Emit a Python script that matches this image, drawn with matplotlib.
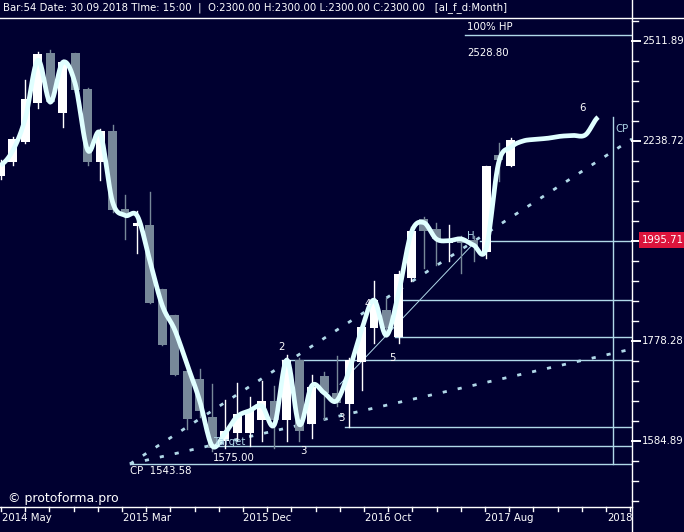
import numpy as np
import matplotlib.pyplot as plt

# monthly candles: open, high, low, close
opens = [2151, 2185, 2236, 2339, 2477, 2312, 2477, 2377, 2185, 2264, 2071, 2030, 2033, 1888,
         1832, 1718, 1702, 1630, 1585, 1599, 1599, 1623, 1660, 1623, 1740, 1617, 1708, 1675,
         1653, 1736, 1805, 1842, 1786, 1912, 2047, 2024, 1991, 1998, 1998, 1970, 2203, 2175]
highs = [2190, 2249, 2402, 2480, 2486, 2457, 2477, 2380, 2270, 2280, 2104, 2066, 2111, 1888,
         1832, 1734, 1722, 1692, 1661, 1694, 1667, 1698, 1689, 1750, 1744, 1710, 1716, 1748,
         1744, 1811, 1905, 1868, 1928, 2028, 2052, 2038, 2033, 2007, 2007, 2175, 2233, 2246]
lows = [2144, 2177, 2233, 2325, 2341, 2275, 2368, 2177, 2141, 2063, 2000, 1968, 1858, 1771,
        1710, 1607, 1630, 1566, 1572, 1585, 1576, 1585, 1572, 1585, 1585, 1590, 1626, 1650,
        1611, 1681, 1774, 1797, 1774, 1906, 1935, 1940, 1950, 1923, 1950, 1957, 2139, 2175]
closes = [2182, 2243, 2350, 2474, 2341, 2451, 2374, 2185, 2264, 2068, 2057, 2035, 1858, 1771,
          1710, 1626, 1641, 1572, 1603, 1635, 1641, 1660, 1623, 1740, 1603, 1687, 1675, 1655,
          1740, 1807, 1864, 1805, 1921, 2019, 2019, 2000, 2000, 1991, 1984, 2175, 2190, 2241]

# smoothed line, one value per bar
smooth = [2177, 2215, 2299, 2457, 2341, 2451, 2391, 2215, 2259, 2087, 2055, 2053, 1950, 1852,
          1801, 1730, 1660, 1576, 1598, 1630, 1641, 1650, 1615, 1740, 1615, 1689, 1675, 1660,
          1719, 1801, 1864, 1790, 1883, 2015, 2038, 2000, 1996, 2000, 1986, 1977, 2182, 2223,
          2239, 2243, 2246, 2251, 2253, 2255, 2301]

levels = [1543.58, 1575.00, 1611, 1740, 1787, 1864, 1995.71, 2528.80]
level_start = [10.4, 17.2, 27.7, 22.6, 31.7, 32.1, 38.5, 37.3]
axis_labels = ['2511.89', '2238.72', '1995.71', '1778.28', '1584.89']
x_labels = ['2014 May', '2015 Mar', '2015 Dec', '2016 Oct', '2017 Aug', '2018']
x_label_px = [27, 147, 267, 388, 509, 620]

BG = '#000030'
LINE = '#b0d8e8'
W, H = 684, 532
FS = 7.3


def ix(px):
    return (px - 0.5) / 12.45


fig = plt.figure(figsize=(W / 100, H / 100), dpi=100, facecolor=BG)
ax = fig.add_axes([0, 25 / H, 632 / W, 489 / H], facecolor=BG)
ax.set_yscale('log')
ax.set_xlim(ix(0), ix(632))
ax.set_ylim(10 ** (3.4 - 466 * 0.0005), 10 ** (3.4 + 23 * 0.0005))
for s in ax.spines.values():
    s.set_visible(False)
ax.set_xticks([])
ax.set_yticks([])
ax.set_yticks([], minor=True)

# horizontal levels
for lv, st in zip(levels, level_start):
    ax.plot([st, ix(632)], [lv, lv], color=LINE, lw=1, zorder=1)

# dotted channel lines from CP
cp_x = ix(130)
ax.plot([cp_x, ix(632)], [1543.58, 2244], color=LINE, lw=2, ls=(0, (1.5, 4)), zorder=1)
ax.plot([cp_x, ix(632)], [1543.58, 1762], color=LINE, lw=2, ls=(0, (1.5, 4)), zorder=1)
ax.plot([ix(340), ix(475)], [1692, 1993], color=LINE, lw=0.7, zorder=1)
ax.plot([ix(613), ix(613)], [1543.58, 2302], color=LINE, lw=1, zorder=1)

# candles
for i, (o, h, l, c) in enumerate(zip(opens, highs, lows, closes)):
    col = 'white' if c >= o else '#778899'
    ax.plot([i, i], [l, h], color=col, lw=1, zorder=2)
    lo, hi = min(o, c), max(o, c)
    if hi / lo < 1.003:
        hi = lo * 1.003
    ax.bar(i, hi - lo, bottom=lo, width=0.72, color=col, zorder=3)

# smooth line (Catmull-Rom through the per-bar values, in log space)
ys = np.log10(smooth)
pts_x, pts_y = [], []
n = len(ys)
for k in range(n - 1):
    p0 = ys[max(k - 1, 0)]
    p1, p2 = ys[k], ys[k + 1]
    p3 = ys[min(k + 2, n - 1)]
    t = np.linspace(0, 1, 12, endpoint=False)
    seg = 0.5 * (2 * p1 + (-p0 + p2) * t + (2 * p0 - 5 * p1 + 4 * p2 - p3) * t ** 2
                 + (-p0 + 3 * p1 - 3 * p2 + p3) * t ** 3)
    pts_x.extend(k + t)
    pts_y.extend(seg)
pts_x.append(n - 1)
pts_y.append(ys[-1])
ax.plot(pts_x, 10 ** np.array(pts_y), color='#e0ffff', lw=3.4, solid_capstyle='butt', zorder=4)

# annotations
tk = dict(color='white', fontsize=FS, zorder=5)
ax.text(ix(278), 1760, '2', **tk)
ax.text(ix(300), 1562, '3', **tk)
ax.text(ix(338), 1622, '3', **tk)
ax.text(ix(365), 1850, '4', **tk)
ax.text(ix(389), 1738, '5', **tk)
ax.text(ix(467), 2000, 'H', color=LINE, fontsize=FS, zorder=5)
ax.text(ix(579), 2318, '6', **tk)
ax.text(ix(615), 2262, 'CP', color=LINE, fontsize=FS, zorder=5)
ax.text(ix(214), 1578, 'Target', color=LINE, fontsize=FS, zorder=5)
ax.text(ix(213), 1549, '1575.00', **tk)
ax.text(ix(130), 1526, 'CP  1543.58', **tk)
ax.text(ix(467), 2545, '100% HP', **tk)
ax.text(ix(467), 2470, '2528.80', **tk)
ax.text(ix(8), 1478, '\u00a9 protoforma.pro', color='white', fontsize=9, zorder=5)

# header
fig.text(3 / W, 1 - 8 / H, 'Bar:54 Date: 30.09.2018 TIme: 15:00  |  O:2300.00 H:2300.00 '
         'L:2300.00 C:2300.00   [al_f_d:Month]', color='white', fontsize=FS, va='center')
fig.add_artist(plt.Line2D([0, 1], [1 - 17.5 / H] * 2, color='white', lw=1))

# right price axis
fig.add_artist(plt.Line2D([632 / W] * 2, [0, 1], color='white', lw=1))
for k in range(-1, 24):
    y = 41 + 20 * k
    major = k % 5 == 0
    fig.add_artist(plt.Line2D([632 / W, (640 if major else 638) / W], [1 - y / H] * 2,
                              color='white', lw=1.4 if major else 1))
for j, lab in enumerate(axis_labels):
    y = 41 + 100 * j - (1 if j == 2 else 0)
    box = None
    if lab == '1995.71':
        box = dict(boxstyle='square,pad=0.25', fc='#dc143c', ec='none')
    fig.text(642 / W, 1 - y / H, lab, color='white', fontsize=FS, va='center', bbox=box)

# bottom time axis
fig.add_artist(plt.Line2D([0, 632 / W], [1 - 507 / H] * 2, color='white', lw=1))
for k in range(27):
    x = 1 + 24.2 * k
    if x < 632:
        fig.add_artist(plt.Line2D([x / W] * 2, [1 - 507 / H, 1 - 511 / H], color='white', lw=1))
for lab, x in zip(x_labels, x_label_px):
    fig.text(x / W, 1 - 518 / H, lab, color='white', fontsize=FS,
             ha='center', va='center')

fig.savefig('out.png', dpi=100, facecolor=BG)
